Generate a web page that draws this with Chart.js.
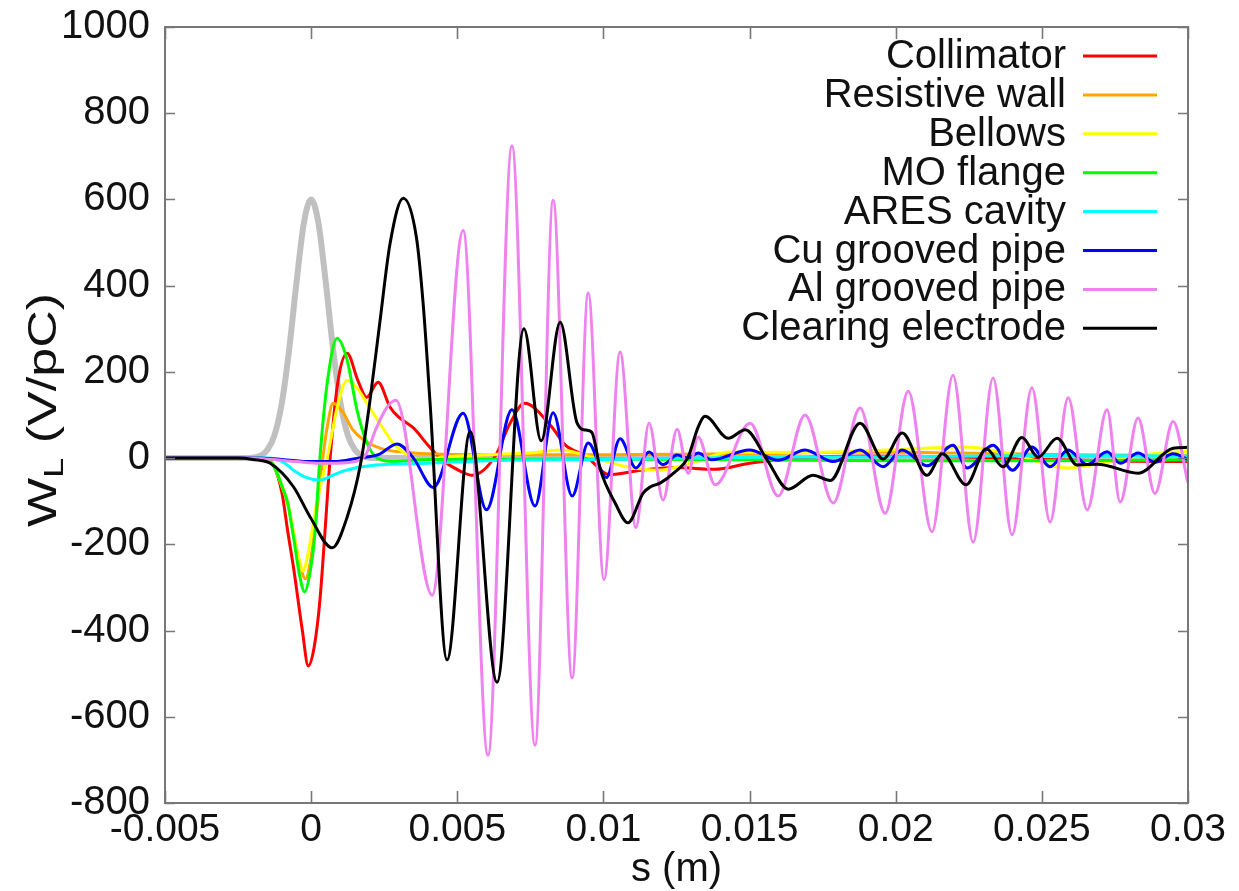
<!DOCTYPE html>
<html><head><meta charset="utf-8">
<script src="https://cdn.jsdelivr.net/npm/chart.js@4.4.0/dist/chart.umd.min.js"></script>
<style>html,body{margin:0;padding:0;background:#fff;}canvas{display:block;}</style>
</head><body>
<canvas id="c" width="1239" height="891"></canvas>
<script>
const seriesNames = ['Collimator','Resistive wall','Bellows','MO flange','ARES cavity','Cu grooved pipe','Al grooved pipe','Clearing electrode'];
const seriesColors = ['#ff0000','#ffa500','#ffff00','#00ff00','#00ffff','#0000ff','#ee82ee','#000000'];
const bunchColor = '#c0c0c0';
const xTickValues = [-0.005,0,0.005,0.01,0.015,0.02,0.025,0.03];
const xTickLabels = ['-0.005','0','0.005','0.01','0.015','0.02','0.025','0.03'];
const yTickValues = [-800,-600,-400,-200,0,200,400,600,800,1000];
const yTickLabels = ['-800','-600','-400','-200','0','200','400','600','800','1000'];
const xTitle = 's (m)';
const yTitleMain = 'W';
const yTitleSub = 'L';
const yTitleRest = ' (V/pC)';

const bunchProfile = [[-0.005,0],[-0.0025,0],[-0.002,1],[-0.00175,5],[-0.0015,19],[-0.00125,54],[-0.001,129],[-0.00075,253],[-0.0005,408],[-0.00025,545],[0,600],[0.00025,545],[0.0005,408],[0.00075,253],[0.001,129],[0.00125,54],[0.0015,19],[0.00175,5],[0.002,1],[0.0025,0],[0.03,0]];
const collimator = [[-0.005,0],[-0.002,0],[-0.0016,-2],[-0.0013,-15],[-0.001,-80],[-0.0008,-170],[-0.0006,-255],[-0.0003,-400],[-0.0001,-482],[0.0001,-440],[0.0003,-330],[0.00047,-174],[0.00065,0],[0.0009,170],[0.00123,243],[0.0016,180],[0.0019,141],[0.00229,176],[0.0027,118],[0.003,95],[0.0035,70],[0.004,30],[0.0045,-5],[0.0051,-30],[0.0055,-40],[0.0063,5],[0.0068,80],[0.0073,127],[0.0082,75],[0.0087,30],[0.0094,5],[0.0102,-38],[0.0113,-28],[0.0125,-22],[0.0138,-26],[0.015,-12],[0.0166,0],[0.019,5],[0.022,3],[0.025,-3],[0.028,-7],[0.03,-8]];
const resistiveWall = [[-0.005,0],[-0.002,0],[-0.0016,-2],[-0.0013,-15],[-0.001,-65],[-0.0008,-105],[-0.0006,-175],[-0.0004,-240],[-0.0002,-280],[0,-230],[0.0002,-120],[0.0004,0],[0.00055,72],[0.00075,127],[0.0011,105],[0.0014,68],[0.0018,42],[0.0024,22],[0.0035,12],[0.006,8],[0.01,8],[0.015,10],[0.019,14],[0.022,12],[0.026,8],[0.03,6]];
const bellows = [[-0.005,0],[-0.002,0],[-0.0016,-2],[-0.0013,-15],[-0.001,-65],[-0.0008,-105],[-0.0006,-175],[-0.0004,-240],[-0.00028,-262],[-0.0001,-220],[0.0002,-100],[0.00055,0],[0.0009,120],[0.00123,180],[0.0016,160],[0.0019,128],[0.0025,65],[0.0028,35],[0.0033,7],[0.0038,-5],[0.0045,2],[0.006,8],[0.0075,12],[0.00852,19],[0.0097,0],[0.0108,-20],[0.0119,-28],[0.0133,-5],[0.0143,14],[0.017,13],[0.0195,18],[0.0224,26],[0.0242,5],[0.0259,-23],[0.0275,-5],[0.0288,10],[0.03,16]];
const moFlange = [[-0.005,0],[-0.002,0],[-0.0016,-2],[-0.0013,-15],[-0.001,-65],[-0.0008,-105],[-0.0006,-185],[-0.0004,-270],[-0.00022,-310],[-0.00005,-270],[0.00013,-174],[0.0003,0],[0.00055,174],[0.00089,278],[0.00123,228],[0.00157,111],[0.00191,35],[0.00226,0],[0.0028,-8],[0.004,-3],[0.01,-2],[0.015,-4],[0.02,-6],[0.025,-6],[0.03,-4]];
const aresCavity = [[-0.005,0],[-0.0015,0],[-0.0012,-3],[-0.0009,-12],[-0.0006,-28],[-0.0002,-44],[0.0003,-51],[0.0008,-38],[0.0012,-28],[0.0022,-16],[0.004,-12],[0.006,-6],[0.01,-3],[0.015,2],[0.02,3],[0.025,6],[0.03,5]];
const cuGroovedPipe = [[-0.005,0],[-0.002,0],[-0.001,-3],[0,-8],[0.0008,-8],[0.0016,0],[0.0023,8],[0.00294,33],[0.0035,0],[0.00418,-68],[0.0052,104],[0.006,-120],[0.00687,112],[0.00766,-111],[0.00828,105],[0.00893,-88],[0.00948,35],[0.0101,-45],[0.01057,45],[0.01111,-23],[0.01156,14],[0.01204,-15],[0.01252,7],[0.0129,0],[0.01324,12],[0.0137,-4],[0.015,19],[0.01598,-5],[0.0169,19],[0.01786,-8],[0.01878,19],[0.01957,-20],[0.02022,19],[0.02107,-18],[0.02196,30],[0.02244,-23],[0.02333,30],[0.024,-28],[0.02466,26],[0.02528,-20],[0.0259,19],[0.02655,-15],[0.02723,15],[0.02768,-12],[0.02829,12],[0.02887,-10],[0.02949,10],[0.03,-3]];
const alGroovedPipe = [[-0.005,0],[-0.002,0],[-0.0015,-2],[-0.0005,-8],[0.0003,-12],[0.0013,-10],[0.0019,12],[0.0022,65],[0.0026,118],[0.0029,134],[0.00414,-318],[0.0052,528],[0.00605,-689],[0.00687,724],[0.00766,-666],[0.00828,598],[0.00893,-510],[0.00948,383],[0.01002,-282],[0.01057,246],[0.01111,-161],[0.01156,81],[0.01204,-97],[0.01252,67],[0.0129,-35],[0.01324,49],[0.01382,-62],[0.01502,81],[0.01598,-88],[0.0169,100],[0.01786,-104],[0.01878,116],[0.01964,-128],[0.02043,155],[0.02124,-171],[0.02196,192],[0.02265,-195],[0.02333,186],[0.02398,-178],[0.02466,163],[0.02528,-148],[0.0259,140],[0.02655,-120],[0.02723,112],[0.02768,-102],[0.02829,93],[0.02887,-82],[0.02949,85],[0.03,-58]];
const clearingElectrode = [[-0.005,0],[-0.0025,0],[-0.002,-3],[-0.0014,-12],[-0.0006,-67],[-0.00003,-137],[0.00072,-208],[0.00123,-137],[0.0017,-10],[0.002,127],[0.00236,320],[0.0027,498],[0.00315,603],[0.0036,513],[0.00383,360],[0.00407,127],[0.00465,-468],[0.00544,62],[0.00636,-520],[0.00728,300],[0.00787,40],[0.00852,315],[0.0091,81],[0.0094,65],[0.0096,60],[0.0099,-28],[0.0104,-104],[0.01084,-150],[0.01136,-81],[0.0116,-67],[0.01194,-58],[0.0124,-35],[0.0129,3],[0.01324,72],[0.01348,97],[0.01427,46],[0.01485,66],[0.0156,-4],[0.01632,-72],[0.01717,-40],[0.01776,-52],[0.01878,81],[0.01957,-2],[0.02022,58],[0.02107,-40],[0.0216,10],[0.02241,-62],[0.0231,22],[0.02367,-20],[0.02432,48],[0.02487,2],[0.02552,46],[0.02621,-16],[0.0269,-14],[0.02829,-35],[0.02949,23],[0.03,25]];

const seriesData = [collimator, resistiveWall, bellows, moFlange, aresCavity, cuGroovedPipe, alGroovedPipe, clearingElectrode];
const FONT = "'Liberation Sans', Arial, Helvetica, sans-serif";
const toPts = arr => arr.map(p => ({x: p[0], y: p[1]}));

const datasets = seriesData.map((d, i) => ({
  label: seriesNames[i], data: toPts(d), borderColor: seriesColors[i], backgroundColor: seriesColors[i],
  borderWidth: 3, pointRadius: 0, cubicInterpolationMode: 'monotone', fill: false,
  order: seriesNames.length - i
}));
datasets.push({label: 'bunch', data: toPts(bunchProfile), borderColor: bunchColor, backgroundColor: bunchColor,
  borderWidth: 6, pointRadius: 0, cubicInterpolationMode: 'monotone', fill: false, order: 20});

const decor = {
  id: 'decor',
  afterDraw(chart) {
    const {ctx, chartArea: a, scales: {x, y}} = chart;
    ctx.save();
    ctx.strokeStyle = '#777'; ctx.lineWidth = 2;
    ctx.strokeRect(a.left, a.top, a.right - a.left, a.bottom - a.top);
    ctx.lineWidth = 1.6;
    ctx.beginPath();
    x.ticks.forEach(t => { const px = Math.round(x.getPixelForValue(t.value)) + 0.5;
      ctx.moveTo(px, a.bottom); ctx.lineTo(px, a.bottom - 12); ctx.moveTo(px, a.top); ctx.lineTo(px, a.top + 12); });
    y.ticks.forEach(t => { const py = Math.round(y.getPixelForValue(t.value)) + 0.5;
      ctx.moveTo(a.left, py); ctx.lineTo(a.left + 10, py); ctx.moveTo(a.right, py); ctx.lineTo(a.right - 10, py); });
    ctx.stroke();
    // legend
    ctx.font = '40px ' + FONT; ctx.fillStyle = '#111'; ctx.textAlign = 'right'; ctx.textBaseline = 'middle';
    seriesNames.forEach((n, i) => {
      const yy = 56 + i * 38.9;
      ctx.fillText(n, 1066, yy + 1);
      ctx.strokeStyle = seriesColors[i]; ctx.lineWidth = 3;
      ctx.beginPath(); ctx.moveTo(1083, yy); ctx.lineTo(1157, yy); ctx.stroke();
    });
    // x title
    ctx.textAlign = 'center'; ctx.fillStyle = '#111';
    ctx.font = '40px ' + FONT;
    ctx.fillText(xTitle, (a.left + a.right) / 2, 870);
    // y title
    ctx.translate(45, 410); ctx.rotate(-Math.PI / 2); ctx.scale(1.3, 1);
    ctx.textAlign = 'left';
    const big = '40px ' + FONT, small = '28px ' + FONT;
    ctx.font = big; const w1 = ctx.measureText(yTitleMain).width, w3 = ctx.measureText(yTitleRest).width;
    ctx.font = small; const w2 = ctx.measureText(yTitleSub).width;
    let sx = -(w1 + w2 + w3) / 2;
    ctx.font = big; ctx.fillText(yTitleMain, sx, 0);
    ctx.font = small; ctx.fillText(yTitleSub, sx + w1, 10);
    ctx.font = big; ctx.fillText(yTitleRest, sx + w1 + w2, 0);
    ctx.restore();
  }
};

new Chart(document.getElementById('c'), {
  type: 'line',
  data: {datasets},
  options: {
    responsive: false, animation: false, devicePixelRatio: 1,
    layout: {padding: {left: 0, top: 27, right: 51, bottom: 0}},
    plugins: {legend: {display: false}, tooltip: {enabled: false}},
    scales: {
      x: {type: 'linear', min: -0.005, max: 0.03,
        afterBuildTicks: s => { s.ticks = xTickValues.map(v => ({value: v})); },
        afterFit: s => { s.height = 88; s.paddingLeft = 0; s.paddingRight = 0; },
        grid: {display: false, drawTicks: false}, border: {display: false},
        ticks: {padding: 4, color: '#111', font: {family: FONT, size: 39}, maxRotation: 0, autoSkip: false,
          callback: (v, i) => xTickLabels[i]}},
      y: {type: 'linear', min: -800, max: 1000,
        afterBuildTicks: s => { s.ticks = yTickValues.map(v => ({value: v})); },
        afterFit: s => { s.width = 165; s.paddingTop = 0; s.paddingBottom = 0; },
        grid: {display: false, drawTicks: false}, border: {display: false},
        ticks: {padding: 15, color: '#111', font: {family: FONT, size: 40}, autoSkip: false,
          callback: (v, i) => yTickLabels[i]}}
    }
  },
  plugins: [decor]
});
</script>
</body></html>
